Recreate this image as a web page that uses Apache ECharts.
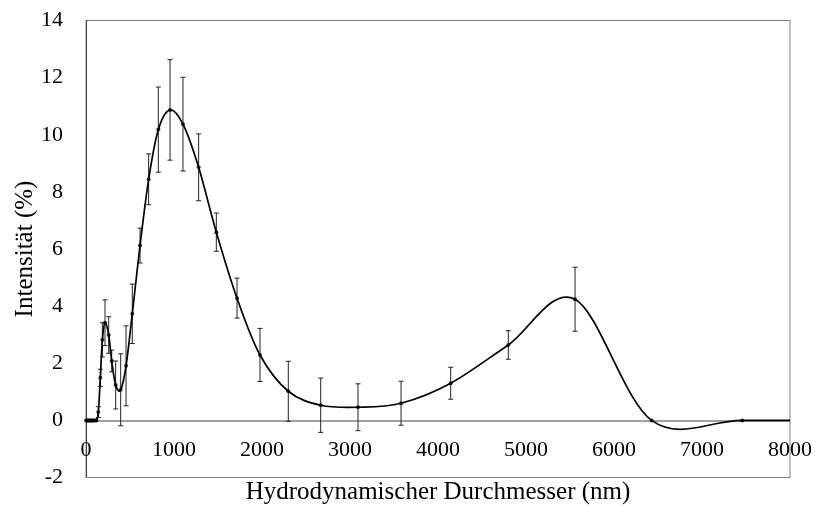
<!DOCTYPE html>
<html><head><meta charset="utf-8">
<script src="https://cdn.jsdelivr.net/npm/echarts@6/dist/echarts.min.js"></script>
<style>html,body{margin:0;padding:0;background:#fff}#c{width:815px;height:508px}</style>
</head><body><div id="c"></div>
<script>
// Hydrodynamic diameter (nm)
const sizes = [1, 10, 20, 30, 40, 49, 57, 66, 76, 89, 103, 119, 140, 163, 186, 216, 258, 292, 337, 394, 455, 526, 614, 712, 822, 955, 1102, 1280, 1481, 1716, 1977, 2299, 2667, 3091, 3580, 4144, 4799, 5557, 6428, 7458, 8650];
// Intensity (%)
const intensity = [0, 0, 0, 0, 0, 0, 0, 0, 0, 0, 0, 0, 0.29, 1.49, 2.82, 3.42, 2.99, 2.08, 1.24, 1.07, 1.91, 3.73, 6.12, 8.44, 10.18, 10.87, 10.37, 8.86, 6.59, 4.28, 2.29, 1.02, 0.53, 0.46, 0.60, 1.30, 2.64, 4.24, 0, 0, 0];
// Standard deviation (%)
const errors = [0, 0, 0, 0, 0, 0, 0, 0, 0, 0, 0, 0, 0.19, 0.30, 0.60, 0.80, 0.64, 0.38, 0.84, 1.26, 1.40, 1.04, 0.61, 0.89, 1.49, 1.76, 1.64, 1.17, 0.67, 0.70, 0.93, 1.05, 0.95, 0.82, 0.77, 0.56, 0.50, 1.12, 0, 0, 0];

const FONT = '"Liberation Serif", "Times New Roman", serif';
const pts = sizes.map((s, i) => [s, intensity[i]]);
const barData = sizes.map((s, i) => [s, intensity[i], errors[i]]).filter(d => d[2] > 0);

const chart = echarts.init(document.getElementById('c'));
chart.setOption({
  animation: false,
  grid: {left: 86, right: 25, top: 20.5, bottom: 30.5, show: true, borderColor: '#808080', borderWidth: 1, backgroundColor: 'transparent', containLabel: false, outerBoundsMode: 'none'},
  xAxis: {
    type: 'value', min: 0, max: 8000, interval: 1000,
    name: 'Hydrodynamischer Durchmesser (nm)', nameLocation: 'middle', nameGap: 2, nameMoveOverlap: false,
    nameTextStyle: {fontFamily: FONT, fontSize: 25, color: '#000', verticalAlign: 'top'},
    axisLine: {show: true, onZero: false, lineStyle: {color: '#808080', width: 1}},
    axisTick: {show: false},
    axisLabel: {fontFamily: FONT, fontSize: 22, color: '#000', margin: -38, verticalAlign: 'top', formatter: v => String(v)},
    splitLine: {show: false}
  },
  yAxis: {
    type: 'value', min: -2, max: 14, interval: 2,
    name: 'Intensität (%)', nameLocation: 'middle', nameGap: 48, nameRotate: 90, nameMoveOverlap: false,
    nameTextStyle: {fontFamily: FONT, fontSize: 25, color: '#000'},
    axisLine: {show: true, onZero: false, lineStyle: {color: '#404040', width: 1}},
    axisTick: {show: false},
    axisLabel: {fontFamily: FONT, fontSize: 22, color: '#000', margin: 23, formatter: v => String(v)},
    splitLine: {show: false}
  },
  series: [
    {
      type: 'custom', data: barData, z: 2,
      renderItem: (params, api) => {
        const x = api.value(0), y = api.value(1), e = api.value(2);
        const top = api.coord([x, y + e]);
        const bot = api.coord([x, y - e]);
        const w = 2.5;
        const st = {stroke: '#222', lineWidth: 1};
        return {type: 'group', children: [
          {type: 'line', shape: {x1: top[0], y1: top[1], x2: bot[0], y2: bot[1]}, style: st},
          {type: 'line', shape: {x1: top[0] - w, y1: top[1], x2: top[0] + w, y2: top[1]}, style: st},
          {type: 'line', shape: {x1: bot[0] - w, y1: bot[1], x2: bot[0] + w, y2: bot[1]}, style: st}
        ]};
      }
    },
    {
      type: 'custom', data: pts, clip: true, z: 3,
      renderItem: (params, api) => {
        const i = params.dataIndex;
        if (i >= pts.length - 1) return null;
        const P = k => api.coord(pts[Math.max(0, Math.min(pts.length - 1, k))]);
        const p0 = P(i - 1), p1 = P(i), p2 = P(i + 1), p3 = P(i + 2);
        const c1 = [p1[0] + (p2[0] - p0[0]) / 6, p1[1] + (p2[1] - p0[1]) / 6];
        const c2 = [p2[0] - (p3[0] - p1[0]) / 6, p2[1] - (p3[1] - p1[1]) / 6];
        return {
          type: 'bezierCurve',
          shape: {x1: p1[0], y1: p1[1], x2: p2[0], y2: p2[1], cpx1: c1[0], cpy1: c1[1], cpx2: c2[0], cpy2: c2[1]},
          style: {stroke: '#000', lineWidth: 1.7, fill: null}
        };
      }
    },
    {
      type: 'scatter', data: pts, symbol: 'circle', symbolSize: 4, z: 4,
      itemStyle: {color: '#000'},
      markLine: {
        silent: true, symbol: 'none', z: 1,
        label: {show: false},
        lineStyle: {color: '#808080', type: 'solid', width: 1.5},
        data: [{yAxis: 0}]
      }
    }
  ]
});
</script>
</body></html>
